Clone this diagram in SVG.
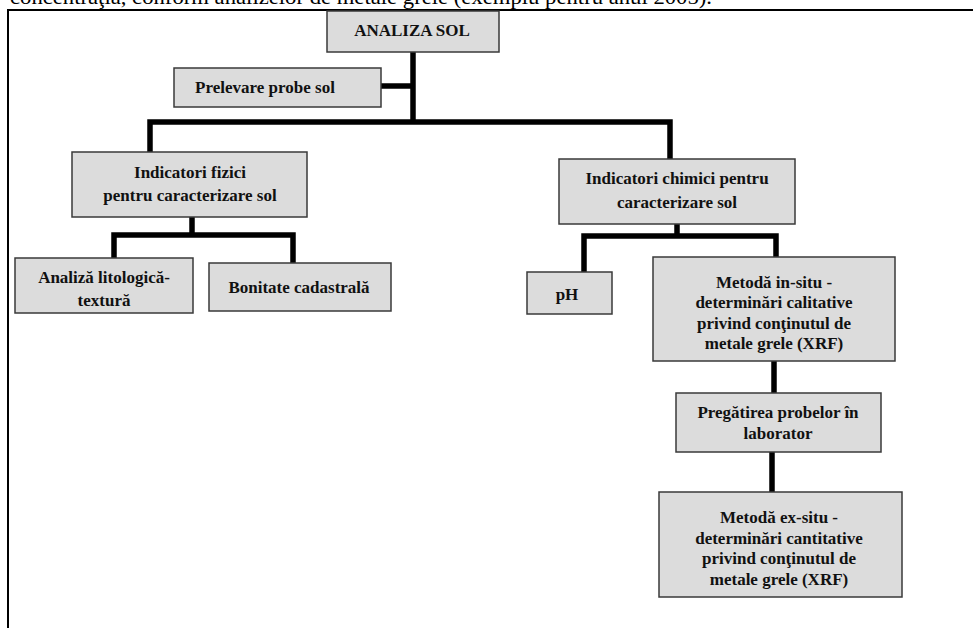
<svg xmlns="http://www.w3.org/2000/svg" width="973" height="628" viewBox="0 0 973 628">
<style>
.box{fill:#dcdcdc;stroke:#3a3a3a;stroke-width:1.5}
.t{font-family:"Liberation Serif","Times New Roman",serif;font-weight:bold;font-size:17px;fill:#111;text-anchor:middle}
.c{fill:none;stroke:#000;stroke-width:5.5;stroke-linejoin:miter;stroke-linecap:butt}
.frame{fill:none;stroke:#000;stroke-width:2}
</style>
<rect width="973" height="628" fill="#fff"/>
<text x="10" y="4" style="font-family:'Liberation Serif','Times New Roman',serif;font-size:20px;fill:#000" textLength="702" lengthAdjust="spacingAndGlyphs">concentraţia, conform analizelor de metale grele (exemplu pentru anul 2005).</text>
<path class="frame" d="M8,628 V10 H973"/>
<g id="connectors">
<path class="c" d="M413,52 V122"/>
<path class="c" d="M381,86 H413"/>
<path class="c" d="M150,152 V122 H670 V159"/>
<path class="c" d="M192,217 V235"/>
<path class="c" d="M114,258 V235 H293 V263"/>
<path class="c" d="M677,224 V236"/>
<path class="c" d="M584,272 V236 H776 V257"/>
<path class="c" d="M774,361 V393"/>
<path class="c" d="M772,452 V492"/>
</g>
<g id="analiza-sol">
<rect class="box" x="327" y="11" width="172" height="41"/>
<text class="t" x="412" y="36">ANALIZA SOL</text>
</g>
<g id="prelevare">
<rect class="box" x="174" y="68" width="207" height="39"/>
<text class="t" x="265" y="93">Prelevare probe sol</text>
</g>
<g id="indicatori-fizici">
<rect class="box" x="72" y="152" width="235" height="65"/>
<text class="t" x="190" y="178">Indicatori fizici</text>
<text class="t" x="190" y="201">pentru caracterizare sol</text>
</g>
<g id="analiza-litologica">
<rect class="box" x="15" y="258" width="178" height="55"/>
<text class="t" x="104" y="283">Analiză litologică-</text>
<text class="t" x="104" y="306">textură</text>
</g>
<g id="bonitate">
<rect class="box" x="209" y="263" width="182" height="48"/>
<text class="t" x="299" y="293">Bonitate cadastrală</text>
</g>
<g id="indicatori-chimici">
<rect class="box" x="559" y="159" width="236" height="65"/>
<text class="t" x="677" y="184">Indicatori chimici pentru</text>
<text class="t" x="677" y="208">caracterizare sol</text>
</g>
<g id="ph">
<rect class="box" x="527" y="272" width="85" height="42"/>
<text class="t" x="567" y="300">pH</text>
</g>
<g id="metoda-in-situ">
<rect class="box" x="653" y="257" width="242" height="104"/>
<text class="t" x="774" y="288">Metodă in-situ -</text>
<text class="t" x="774" y="308">determinări calitative</text>
<text class="t" x="774" y="329">privind conţinutul de</text>
<text class="t" x="774" y="349">metale grele (XRF)</text>
</g>
<g id="pregatirea">
<rect class="box" x="676" y="393" width="205" height="59"/>
<text class="t" x="778" y="418">Pregătirea probelor în</text>
<text class="t" x="778" y="439">laborator</text>
</g>
<g id="metoda-ex-situ">
<rect class="box" x="659" y="492" width="243" height="105"/>
<text class="t" x="779" y="523">Metodă ex-situ -</text>
<text class="t" x="779" y="544">determinări cantitative</text>
<text class="t" x="779" y="564">privind conţinutul de</text>
<text class="t" x="779" y="585">metale grele (XRF)</text>
</g>
</svg>
